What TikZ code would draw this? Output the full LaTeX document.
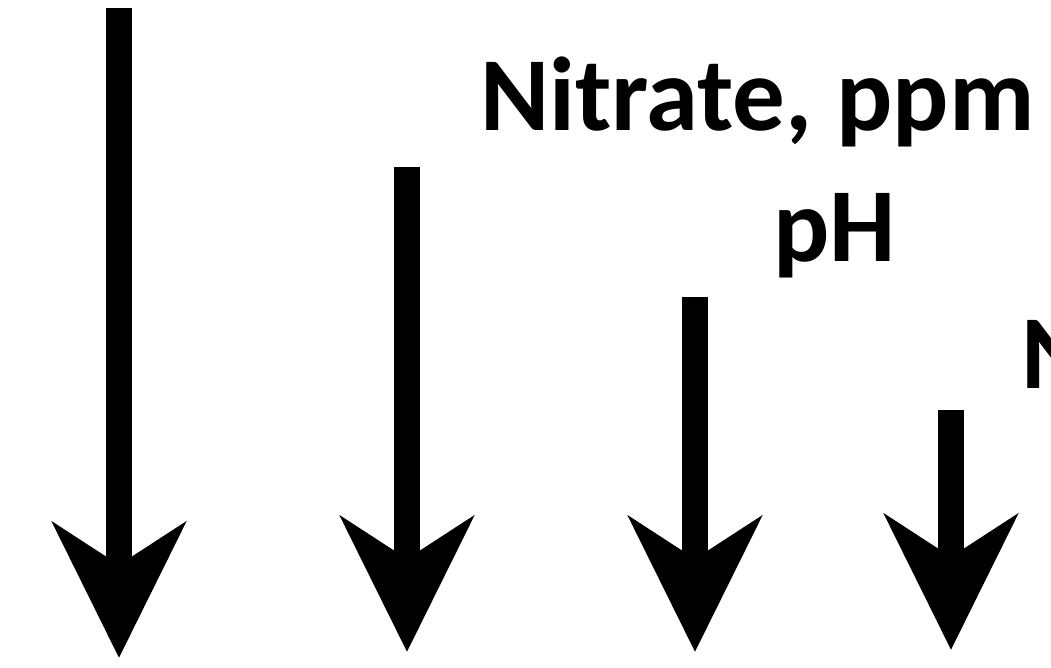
\documentclass[tikz,border=0pt]{standalone}
\usepackage{fontspec}
\setmainfont{Carlito}
\usetikzlibrary{arrows.meta}

\begin{document}
\begin{tikzpicture}[x=1pt,y=1pt,
   fat arrow/.style={line width=26pt,-{Stealth[length=135pt,width=132pt,inset=42pt]}},
   big label/.style={inner sep=0pt,anchor=base west,font=\fontsize{105}{105}\selectfont\bfseries}]
\clip (0,0) rectangle (1051,667);
\useasboundingbox (0,0) rectangle (1051,667);
\coordinate (top1) at (119,659);
\coordinate (tip1) at (119,9);
\coordinate (top2) at (407,500);
\coordinate (tip2) at (407,15);
\coordinate (top3) at (695,370);
\coordinate (tip3) at (695,15);
\coordinate (top4) at (951,257);
\coordinate (tip4) at (951,17);
\draw[fat arrow] (top1) -- (tip1);
\draw[fat arrow] (top2) -- (tip2);
\draw[fat arrow] (top3) -- (tip3);
\draw[fat arrow] (top4) -- (tip4);
\node[big label] (nitrate) at (480,536) {Nitrate, ppm};
\node[big label] (ph) at (773,405) {pH};
\node[big label] (n) at (1021,278) {N};
\end{tikzpicture}
\end{document}
